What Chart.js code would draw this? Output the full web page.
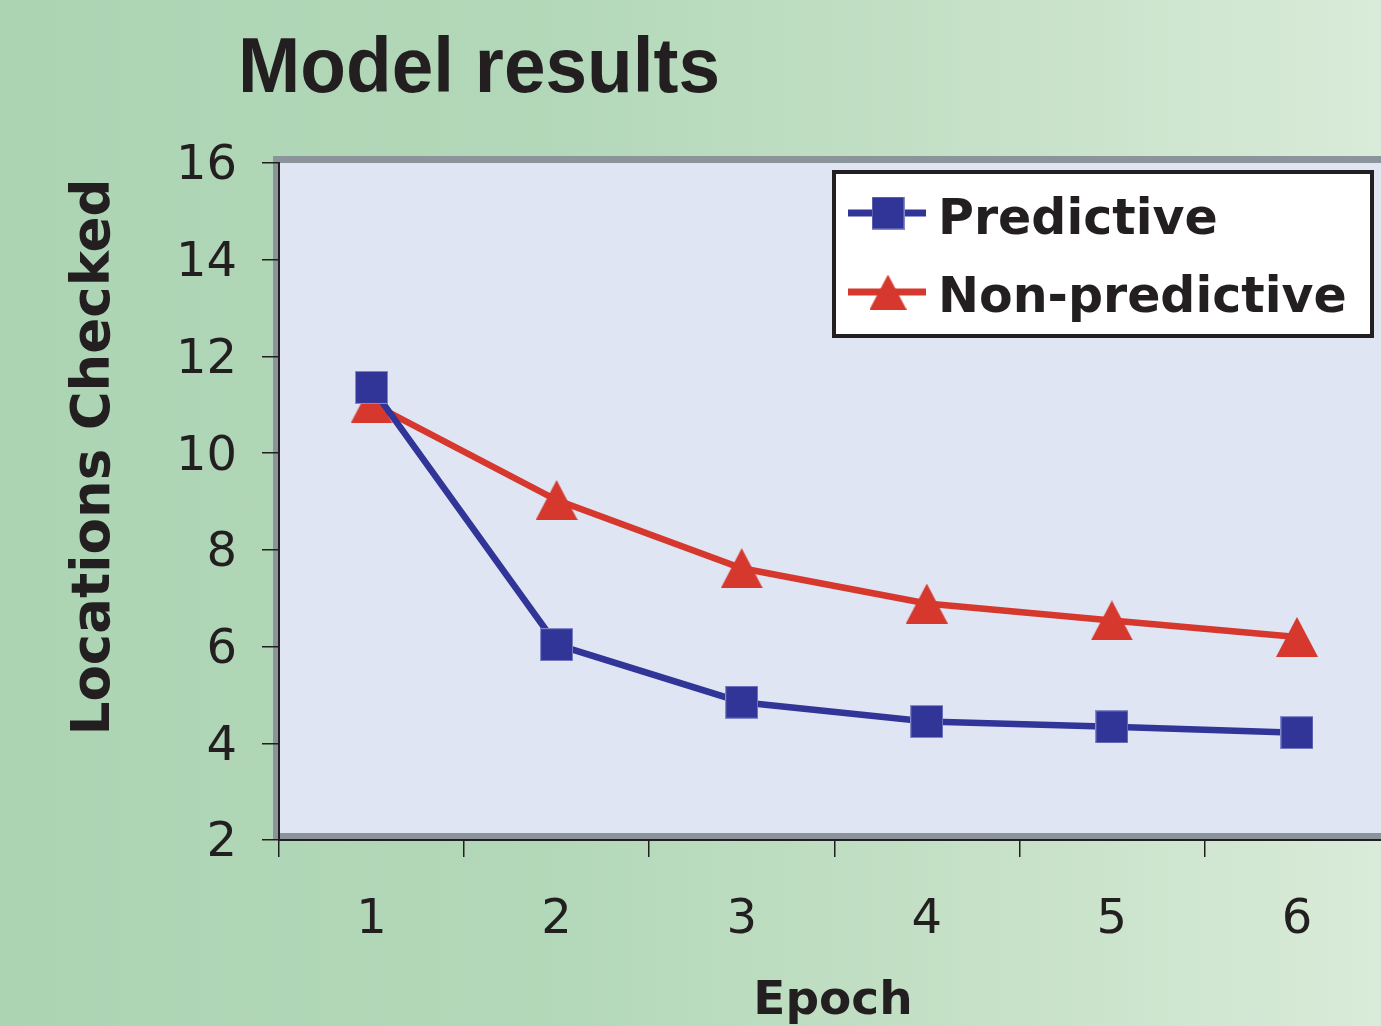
<!DOCTYPE html>
<html>
<head>
<meta charset="utf-8">
<title>Model results</title>
<script src="https://cdn.jsdelivr.net/npm/chart.js@4.4.1/dist/chart.umd.min.js"></script>
<style>
    html, body { margin: 0; padding: 0; width: 1381px; height: 1026px; overflow: hidden; }
    body { background: linear-gradient(to right, #acd4b3 0%, #b3d8b9 40%, #c8e2c9 75%, #d9ebd9 100%); }
    #wrap { width: 1400px; height: 1026px; }
</style>
</head>
<body>
<div id="wrap"><canvas id="chart" width="1400" height="1026"></canvas></div>
<script>
const epochs = ['1', '2', '3', '4', '5', '6'];
const predictive = [11.36, 6.04, 4.85, 4.45, 4.34, 4.22];
const nonPredictive = [11.03, 9.03, 7.62, 6.89, 6.54, 6.20];
const seriesNames = ['Predictive', 'Non-predictive'];
const seriesColors = ['#303597', '#d6382e'];
const yTicks = [2, 4, 6, 8, 10, 12, 14, 16];

const chartTitle = 'Model results';
const xTitle = 'Epoch';
const yTitle = 'Locations Checked';
const textColor = '#231f20';

function makeSquare(size, color) {
    const c = document.createElement('canvas');
    c.width = size; c.height = size;
    const g = c.getContext('2d');
    g.fillStyle = color;
    g.fillRect(0, 0, size, size);
    g.strokeStyle = 'rgba(140,145,205,0.9)';
    g.lineWidth = 1;
    g.strokeRect(0.5, 0.5, size - 1, size - 1);
    return c;
}

function makeTriangle(w, h, color) {
    const c = document.createElement('canvas');
    c.width = w; c.height = h;
    const g = c.getContext('2d');
    g.fillStyle = color;
    g.beginPath();
    g.moveTo(w / 2, 0);
    g.lineTo(w, h);
    g.lineTo(0, h);
    g.closePath();
    g.fill();
    return c;
}

const squareMark = makeSquare(33, seriesColors[0]);
const triangleMark = makeTriangle(42, 40, seriesColors[1]);
const legendTriangle = makeTriangle(37, 35, seriesColors[1]);

// plot wall, titles and the boxed legend
const frameAndText = {
    id: 'frameAndText',
    beforeDraw(chart) {
        const { ctx, chartArea: a } = chart;
        ctx.save();
        ctx.fillStyle = '#dfe5f3';
        ctx.fillRect(a.left, a.top, a.right - a.left + 20, a.bottom - a.top);
        ctx.fillStyle = '#8b939b';
        ctx.fillRect(a.left - 6, a.top - 7, a.right - a.left + 30, 7);
        ctx.fillRect(a.left - 6, a.top - 7, 6, a.bottom - a.top + 7);
        ctx.fillRect(a.left, a.bottom - 7, a.right - a.left + 20, 7);
        ctx.restore();
    },
    afterDraw(chart) {
        const ctx = chart.ctx;
        ctx.save();
        ctx.fillStyle = textColor;

        // chart title
        ctx.font = 'bold 77px "Liberation Sans"';
        ctx.textAlign = 'left';
        ctx.textBaseline = 'alphabetic';
        ctx.fillText(chartTitle, 238, 92, 482);

        // y axis title
        ctx.save();
        ctx.translate(109, 457);
        ctx.rotate(-Math.PI / 2);
        ctx.font = 'bold 53px "DejaVu Sans"';
        ctx.textAlign = 'center';
        ctx.fillText(yTitle, 0, 0);
        ctx.restore();

        // x axis title
        ctx.font = 'bold 47px "DejaVu Sans"';
        ctx.textAlign = 'center';
        ctx.fillText(xTitle, 833, 1014);

        // legend
        ctx.fillStyle = '#ffffff';
        ctx.fillRect(834, 172, 538, 164);
        ctx.strokeStyle = textColor;
        ctx.lineWidth = 4;
        ctx.strokeRect(834, 172, 538, 164);

        const rows = [213, 292];
        const marks = [squareMark, legendTriangle];
        const baselines = [234, 312];
        rows.forEach((y, i) => {
            ctx.strokeStyle = seriesColors[i];
            ctx.lineWidth = 7;
            ctx.beginPath();
            ctx.moveTo(848, y);
            ctx.lineTo(926, y);
            ctx.stroke();
            const m = marks[i];
            ctx.drawImage(m, 888 - m.width / 2, y - m.height / 2);
            ctx.fillStyle = textColor;
            ctx.font = 'bold 49px "DejaVu Sans"';
            ctx.textAlign = 'left';
            ctx.fillText(seriesNames[i], 938, baselines[i]);
        });
        ctx.restore();
    }
};

const ctx = document.getElementById('chart').getContext('2d');
const chart = new Chart(ctx, {
    type: 'line',
    data: {
        labels: epochs,
        datasets: [{
            label: seriesNames[0],
            data: predictive,
            borderColor: seriesColors[0],
            backgroundColor: seriesColors[0],
            borderWidth: 6.5,
            pointStyle: squareMark,
            tension: 0
        }, {
            label: seriesNames[1],
            data: nonPredictive,
            borderColor: seriesColors[1],
            backgroundColor: seriesColors[1],
            borderWidth: 6.5,
            pointStyle: triangleMark,
            tension: 0
        }]
    },
    options: {
        responsive: false,
        animation: false,
        devicePixelRatio: 1,
        layout: { padding: { top: 163, right: 4, left: 0, bottom: 0 } },
        plugins: {
            legend: { display: false },
            title: { display: false },
            tooltip: { enabled: false }
        },
        scales: {
            x: {
                type: 'category',
                offset: true,
                grid: { offset: true, drawOnChartArea: false, tickLength: 17, color: textColor, lineWidth: 1.5 },
                border: { color: textColor, width: 2 },
                ticks: { color: textColor, padding: 35, font: { family: 'DejaVu Sans', size: 48 } },
                afterFit(scale) { scale.height = 186; }
            },
            y: {
                min: yTicks[0],
                max: yTicks[yTicks.length - 1],
                ticks: {
                    stepSize: yTicks[1] - yTicks[0],
                    color: textColor,
                    padding: 25,
                    labelOffset: 4,
                    font: { family: 'DejaVu Sans', size: 48 }
                },
                grid: { drawOnChartArea: false, tickLength: 17, color: textColor, lineWidth: 1.5 },
                border: { color: textColor, width: 2 },
                afterFit(scale) { scale.width = 279; }
            }
        }
    },
    plugins: [frameAndText]
});
</script>
</body>
</html>
